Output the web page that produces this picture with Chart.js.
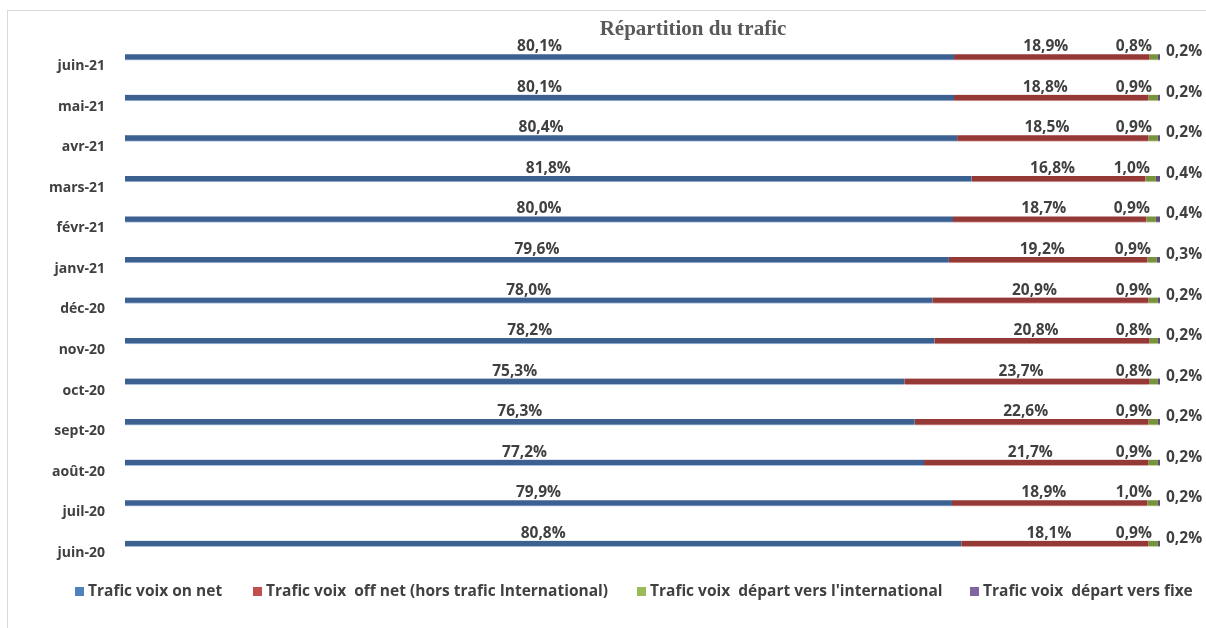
<!DOCTYPE html>
<html>
<head>
<meta charset="utf-8">
<script src="https://cdn.jsdelivr.net/npm/chart.js@4"></script>
<style>
  html, body { margin: 0; padding: 0; background: #fff; overflow: hidden; }
  #wrap { position: relative; width: 1206px; height: 628px; }
  #frame { position: absolute; left: 7px; top: 10px; width: 1300px; height: 700px; border: 1px solid #d9d9d9; }
  #title { position: absolute; top: 16px; left: 493px; width: 400px; text-align: center;
    font: bold 21px "Liberation Serif", serif; color: #595959; }
  #legend { position: absolute; top: 579px; left: 0; width: 1206px; height: 22px;
    font: bold 15.5px "Open Sans", sans-serif; color: #404040; }
  .item { position: absolute; top: 0; white-space: pre; line-height: 22px; }
  .box { display: inline-block; width: 9px; height: 9px; margin-right: 4px; }
  canvas { position: absolute; left: 0; top: 0; }
</style>
</head>
<body>
<div id="wrap">
  <div id="frame"></div>
  <canvas id="trafic" width="1206" height="628"></canvas>
  <div id="title">Répartition du trafic</div>
  <div id="legend"></div>
</div>
<script>
// Répartition du trafic voix (%), de juin-20 à juin-21
const months = ['juin-20','juil-20','août-20','sept-20','oct-20','nov-20','déc-20',
  'janv-21','févr-21','mars-21','avr-21','mai-21','juin-21'];
const onNet   = [80.8, 79.9, 77.2, 76.3, 75.3, 78.2, 78.0, 79.6, 80.0, 81.8, 80.4, 80.1, 80.1];
const offNet  = [18.1, 18.9, 21.7, 22.6, 23.7, 20.8, 20.9, 19.2, 18.7, 16.8, 18.5, 18.8, 18.9];
const interna = [0.9, 1.0, 0.9, 0.9, 0.8, 0.8, 0.9, 0.9, 0.9, 1.0, 0.9, 0.9, 0.8];
const fixe    = [0.2, 0.2, 0.2, 0.2, 0.2, 0.2, 0.2, 0.3, 0.4, 0.4, 0.2, 0.2, 0.2];

const seriesNames = ['Trafic voix on net', 'Trafic voix  off net (hors trafic International)',
  "Trafic voix  départ vers l'international", 'Trafic voix  départ vers fixe'];
const barColors = ['#3c6191', '#953936', '#77933c', '#5f4a7b'];
const edgeColors = ['#a7bde0', '#d9a3a1', '#c3d69b', '#b3a2c7'];
const legendColors = ['#4f81bd', '#c0504d', '#9bbb59', '#8064a2'];

// legend (html)
const legendX = [75, 253, 637, 970];
const legend = document.getElementById('legend');
seriesNames.forEach((n, i) => {
  const d = document.createElement('div');
  d.className = 'item';
  d.style.left = legendX[i] + 'px';
  d.innerHTML = '<span class="box" style="background:' + legendColors[i] + '"></span>';
  d.appendChild(document.createTextNode(n));
  legend.appendChild(d);
});

const fmt = v => v.toFixed(1).replace('.', ',') + '%';

// value labels drawn above each segment
const valueLabels = {
  id: 'valueLabels',
  afterDatasetsDraw(chart) {
    const ctx = chart.ctx;
    ctx.save();
    ctx.font = 'bold 15.5px "Open Sans", sans-serif';
    ctx.fillStyle = '#404040';
    ctx.textBaseline = 'alphabetic';
    chart.data.datasets.forEach((ds, di) => {
      const meta = chart.getDatasetMeta(di);
      meta.data.forEach((bar, i) => {
        const txt = fmt(ds.data[i]);
        const left = Math.min(bar.x, bar.base), right = Math.max(bar.x, bar.base);
        if (di === 0 || di === 1) {
          ctx.textAlign = 'center';
          ctx.fillText(txt, (left + right) / 2 - (di === 1 ? 6 : 0), bar.y - 6);
        } else if (di === 2) {
          ctx.textAlign = 'right';
          ctx.fillText(txt, right - 6, bar.y - 6);
        } else {
          ctx.textAlign = 'left';
          ctx.fillText(txt, right + 6, bar.y - 1);
        }
      });
    });
    ctx.restore();
  }
};

const ctx = document.getElementById('trafic').getContext('2d');
new Chart(ctx, {
  type: 'bar',
  data: {
    labels: months,
    datasets: [onNet, offNet, interna, fixe].map((d, i) => ({
      label: seriesNames[i],
      data: d,
      backgroundColor: barColors[i],
      borderColor: edgeColors[i],
      borderWidth: { top: 0, right: 0, bottom: 1, left: 0 },
      borderSkipped: false,
      barThickness: 6
    }))
  },
  options: {
    indexAxis: 'y',
    responsive: false,
    animation: false,
    layout: { padding: { top: 37, right: 46, bottom: 64, left: 10 } },
    plugins: {
      legend: { display: false },
      title: { display: false },
      tooltip: { enabled: false }
    },
    scales: {
      x: { stacked: true, min: 0, max: 100, display: false },
      y: {
        stacked: true,
        reverse: true,
        grid: { display: false, drawTicks: false },
        border: { display: false },
        afterFit: s => { s.width = 115; },
        ticks: {
          color: '#404040',
          padding: 20,
          labelOffset: 9,
          font: { family: 'Open Sans', size: 14, weight: 'bold' }
        }
      }
    }
  },
  plugins: [valueLabels]
});
</script>
</body>
</html>
